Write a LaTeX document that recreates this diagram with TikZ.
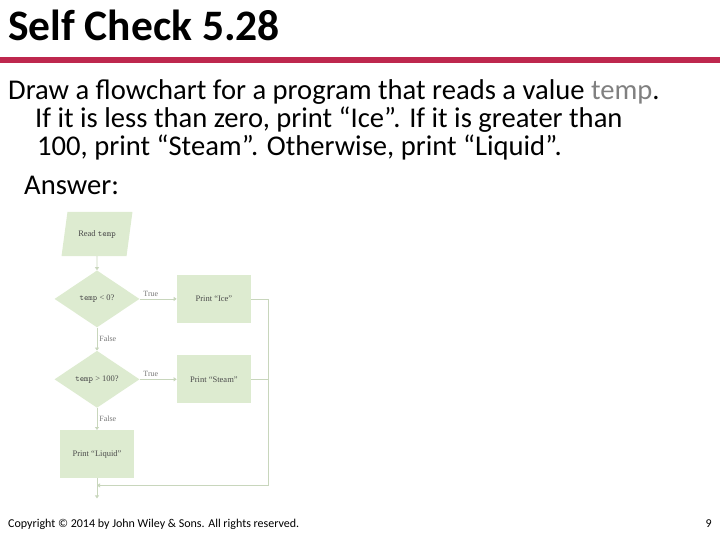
\documentclass[tikz,border=0pt]{standalone}
\usepackage{fontspec}
\setmainfont{Carlito}
\newfontfamily\chartfont{Liberation Serif}
\usetikzlibrary{shapes.geometric,arrows.meta,positioning}
\definecolor{boxgreen}{RGB}{221,235,208}
\definecolor{linegreen}{RGB}{200,214,188}
\definecolor{slidered}{RGB}{190,40,78}
\definecolor{labelgray}{RGB}{120,120,120}
\begin{document}
\begin{tikzpicture}[x=1pt, y=-1pt,
node distance=14pt and 37pt,
txt/.style={anchor=base west, inner sep=0pt, font=\fontsize{28.6}{28}\selectfont},
chart/.style={fill=boxgreen, inner sep=1pt, align=center, text=black!70, font=\chartfont\fontsize{8.5}{10}\selectfont},
proc/.style={chart, rectangle, minimum width=74pt, minimum height=48pt},
dec/.style={chart, diamond, minimum width=85pt, minimum height=57pt},
io/.style={chart, trapezium, trapezium left angle=68, trapezium right angle=112, trapezium stretches=true, minimum width=71pt, minimum height=44pt},
lbl/.style={font=\chartfont\fontsize{8}{9}\selectfont, text=labelgray, inner sep=2pt},
arr/.style={-{Triangle[width=4pt,length=3pt]}, linegreen, line width=0.8pt},
]
\useasboundingbox (0,0) rectangle (720,540);
% heading and question
\node[anchor=base west, inner sep=0pt, font=\bfseries\fontsize{43.5}{44}\selectfont] (title) at (8,41) {Self Check 5.28};
\fill[slidered] (0,57) rectangle (720,63);
\node[txt] (q1) at (8,100) {Draw a flowchart for a program that reads a value \textcolor{gray}{temp}.};
\node[txt] (q2) at (35,128) {If it is less than zero, print “Ice”. If it is greater than};
\node[txt] (q3) at (37,156) {100, print “Steam”. Otherwise, print “Liquid”.};
\node[txt] (ans) at (24,195) {Answer:};
% flowchart
\node[io] (read) at (97,234) {Read \texttt{temp}};
\node[dec, below=of read] (lt) {\texttt{temp} < 0?};
\node[proc, right=of lt] (ice) {Print “Ice”};
\node[dec, below=23pt of lt] (gt) {\texttt{temp} > 100?};
\node[proc, right=of gt] (steam) {Print “Steam”};
\node[proc, below=22pt of gt] (liquid) {Print “Liquid”};
\coordinate[right=17pt of ice] (rail);
\coordinate[below=7pt of liquid] (join);
\coordinate[below=20pt of liquid] (done);
\draw[arr] (read) -- (lt);
\draw[arr] (lt) -- (ice) node[lbl, pos=0.3, above] {True};
\draw[arr] (lt) -- (gt) node[lbl, midway, right] {False};
\draw[arr] (gt) -- (steam) node[lbl, pos=0.3, above] {True};
\draw[arr] (gt) -- (liquid) node[lbl, midway, right] {False};
\draw[arr] (ice.east) -- (rail) -- (rail |- join) -- (join);
\draw[linegreen, line width=0.8pt] (steam.east) -- (steam.east -| rail);
\draw[arr] (liquid) -- (done);
% footer
\node[anchor=base west, inner sep=0pt, font=\fontsize{12}{14}\selectfont] (copy) at (8,527) {Copyright © 2014 by John Wiley \& Sons. All rights reserved.};
\node[anchor=base east, inner sep=0pt, font=\fontsize{12}{14}\selectfont] (page) at (712,527) {9};
\end{tikzpicture}
\end{document}
